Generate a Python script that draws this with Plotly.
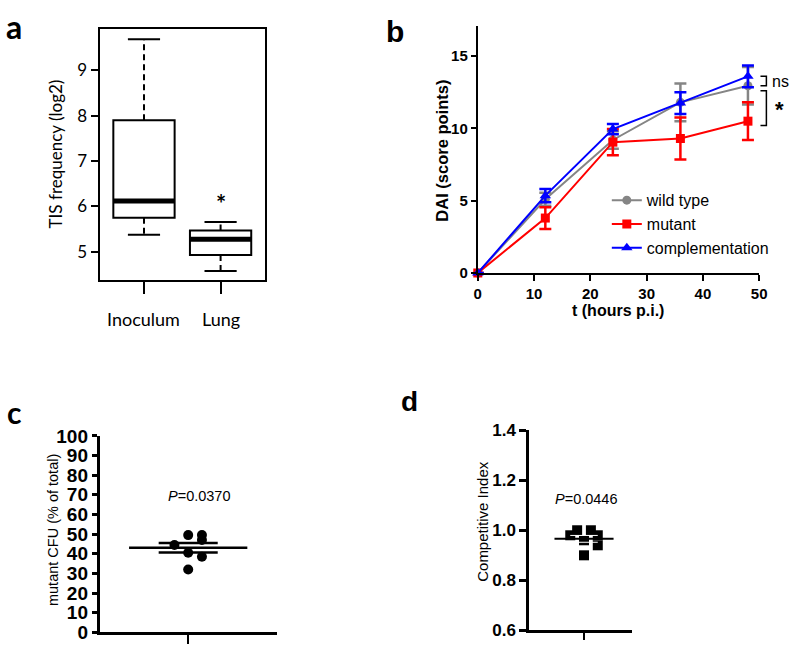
import numpy as np
import plotly.graph_objects as go

# ---------------- data ----------------
# panel a: box plot statistics (log2 TIS frequency)
box_categories = ["Inoculum", "Lung"]
box_q1 = [5.75, 4.93]
box_median = [6.12, 5.28]
box_q3 = [7.90, 5.47]
box_min = [5.38, 4.58]
box_max = [9.68, 5.66]
box_yticks = [5, 6, 7, 8, 9]

# panel b: DAI time course (mean, SEM)
time_hours = [0, 12, 24, 36, 48]
wt_mean = [0, 5.1, 9.2, 11.8, 12.95]
wt_sem = [None, 0.45, 0.6, 1.3, 1.3]
mut_mean = [0, 3.8, 9.05, 9.3, 10.5]
mut_sem = [None, 0.75, 0.9, 1.45, 1.3]
comp_mean = [0, 5.35, 9.95, 11.75, 13.6]
comp_sem = [None, 0.45, 0.35, 0.75, 0.75]
series_names = ["wild type", "mutant", "complementation"]

# panel c: mutant CFU (% of total)
cfu_values = [49.5, 49.5, 47.0, 44.5, 40.5, 38.5, 32.0]
cfu_slots = [0, 1, 1, -1, 0, 1, 0]
cfu_p = "0.0370"

# panel d: competitive index
ci_values = [1.00, 1.00, 0.98, 0.98, 0.96, 0.94, 0.90]
ci_slots = [-1, 1, -2, 2, 0, 2, 0]
ci_p = "0.0446"

# ---------------- helpers ----------------
W, H = 800, 655
def PX(x):
    return x / W
def PY(y):
    return 1 - y / H

ARIAL = "Liberation Sans"
CAL = "Lato"

fig = go.Figure()

# ---------------- panel a ----------------
cat_x = [1, 2]
fig.add_trace(go.Box(
    x=cat_x, q1=box_q1, median=box_median, q3=box_q3,
    lowerfence=box_q1, upperfence=box_q3,
    width=0.8, fillcolor="white", line=dict(color="black", width=2),
    boxpoints=False, xaxis="x", yaxis="y", showlegend=False, hoverinfo="skip"))
wx, wy, cx, cy = [], [], [], []
for c, q1, q3, lo, hi in zip(cat_x, box_q1, box_q3, box_min, box_max):
    wx += [c, c, None, c, c, None]
    wy += [q3, hi, None, q1, lo, None]
    cx += [c - 0.21, c + 0.21, None, c - 0.21, c + 0.21, None]
    cy += [hi, hi, None, lo, lo, None]
fig.add_trace(go.Scatter(x=wx, y=wy, mode="lines", line=dict(color="black", width=2, dash="6px,4px"),
                         xaxis="x", yaxis="y", showlegend=False, hoverinfo="skip"))
fig.add_trace(go.Scatter(x=cx, y=cy, mode="lines", line=dict(color="black", width=2),
                         xaxis="x", yaxis="y", showlegend=False, hoverinfo="skip"))
mx, my = [], []
for c, m in zip(cat_x, box_median):
    mx += [c - 0.4, c + 0.4, None]
    my += [m, m, None]
fig.add_trace(go.Scatter(x=mx, y=my, mode="lines", line=dict(color="black", width=5),
                         xaxis="x", yaxis="y", showlegend=False, hoverinfo="skip"))

# ---------------- panel b ----------------
b_specs = [
    (series_names[0], wt_mean, wt_sem, "#858585", "circle", 9),
    (series_names[1], mut_mean, mut_sem, "#ff0000", "square", 9),
    (series_names[2], comp_mean, comp_sem, "#0000ff", "triangle-up", 10),
]
for name, mean, sem, col, sym, ms in b_specs:
    fig.add_trace(go.Scatter(
        x=time_hours, y=mean, name=name, mode="lines+markers",
        line=dict(color=col, width=2),
        marker=dict(color=col, symbol=sym, size=ms),
        error_y=dict(type="data", array=sem, visible=True, color=col, thickness=2.5, width=6),
        cliponaxis=False, xaxis="x2", yaxis="y2"))

# ---------------- panel c ----------------
cfu = np.array(cfu_values)
cfu_mean = cfu.mean()
cfu_sem = cfu.std(ddof=1) / np.sqrt(len(cfu))
fig.add_trace(go.Scatter(x=[1 + 0.155 * s for s in cfu_slots], y=cfu_values, mode="markers",
                         marker=dict(color="black", size=10), cliponaxis=False,
                         xaxis="x3", yaxis="y3", showlegend=False, hoverinfo="skip"))
fig.add_trace(go.Scatter(
    x=[1 - 0.667, 1 + 0.667, None, 1 - 0.333, 1 + 0.333, None, 1 - 0.333, 1 + 0.333],
    y=[cfu_mean, cfu_mean, None, cfu_mean + cfu_sem, cfu_mean + cfu_sem, None,
       cfu_mean - cfu_sem, cfu_mean - cfu_sem],
    mode="lines", line=dict(color="black", width=2.5),
    xaxis="x3", yaxis="y3", showlegend=False, hoverinfo="skip"))

# ---------------- panel d ----------------
ci = np.array(ci_values)
ci_mean = ci.mean()
ci_sem = ci.std(ddof=1) / np.sqrt(len(ci))
fig.add_trace(go.Scatter(x=[1 + 0.125 * s for s in ci_slots], y=ci_values, mode="markers",
                         marker=dict(color="black", size=10, symbol="square"), cliponaxis=False,
                         xaxis="x4", yaxis="y4", showlegend=False, hoverinfo="skip"))
fig.add_trace(go.Scatter(
    x=[1 - 0.25, 1 + 0.25, None, 1 - 0.25, 1 + 0.25],
    y=[ci_mean + ci_sem, ci_mean + ci_sem, None, ci_mean - ci_sem, ci_mean - ci_sem],
    mode="lines", line=dict(color="white", width=1),
    xaxis="x4", yaxis="y4", showlegend=False, hoverinfo="skip"))
fig.add_trace(go.Scatter(
    x=[1 - 0.537, 1 + 0.537], y=[ci_mean, ci_mean],
    mode="lines", line=dict(color="black", width=2),
    xaxis="x4", yaxis="y4", showlegend=False, hoverinfo="skip"))

# ---------------- axes ----------------
def ax(**kw):
    base = dict(showgrid=False, zeroline=False, showline=True, linecolor="black",
                ticks="outside", tickcolor="black", fixedrange=True)
    base.update(kw)
    return base

b_tick = dict(family=ARIAL, size=15, color="black", weight="bold")

fig.update_layout(
    width=W, height=H, margin=dict(l=0, r=0, t=0, b=0),
    paper_bgcolor="white", plot_bgcolor="white",
    showlegend=True,
    xaxis=ax(domain=[PX(97), PX(265)], range=[0.42, 2.58], tickvals=cat_x, ticktext=["", ""],
             mirror=True, linewidth=2, ticklen=12, tickwidth=2, anchor="y"),
    yaxis=ax(domain=[PY(279), PY(20)], range=[4.38, 9.90], tickvals=box_yticks,
             mirror=True, linewidth=2, ticklen=7, tickwidth=1.5, anchor="x",
             tickfont=dict(family=CAL, size=17, color="black")),
    xaxis2=ax(domain=[PX(481), PX(766.7)], range=[0, 50], dtick=10, tick0=0,
              linewidth=2, ticklen=6, tickwidth=2, anchor="y2", tickfont=b_tick),
    yaxis2=ax(domain=[PY(271.7), PY(16.7)], range=[0, 17.07], tickvals=[0, 5, 10, 15],
              linewidth=2, ticklen=5, tickwidth=2, anchor="x2", tickfont=b_tick),
    xaxis3=ax(domain=[PX(97), PX(277)], range=[0, 2], tickvals=[1], ticktext=[""],
              linewidth=2.5, ticklen=9, tickwidth=2, anchor="y3"),
    yaxis3=ax(domain=[PY(643), PY(440)], range=[0, 100], dtick=10, tick0=0,
              linewidth=2.5, ticklen=5, tickwidth=2.5, anchor="x3",
              tickfont=dict(family=ARIAL, size=19, color="black", weight="bold")),
    xaxis4=ax(domain=[PX(533), PX(638)], range=[0, 1.88], tickvals=[1], ticktext=[""],
              linewidth=2.5, ticklen=7, tickwidth=2, anchor="y4"),
    yaxis4=ax(domain=[PY(641), PY(434)], range=[0.6, 1.4], tickvals=[0.6, 0.8, 1.0, 1.2, 1.4],
              tickformat=".1f", linewidth=2.5, ticklen=7, tickwidth=2.5, anchor="x4",
              tickfont=dict(family=ARIAL, size=17, color="black", weight="bold")),
    legend=dict(x=PX(612), y=PY(179), xanchor="left", yanchor="top",
                font=dict(family=ARIAL, size=16, color="black"),
                bgcolor="rgba(0,0,0,0)", borderwidth=0, itemwidth=30),
)

# ---------------- annotations ----------------
ann = []
def text(x, y, s, size, family=ARIAL, bold=False, angle=0, xanchor="center", **kw):
    d = dict(x=PX(x), y=PY(y), xref="paper", yref="paper", text=s, showarrow=False,
             xanchor=xanchor, yanchor="middle", textangle=angle,
             font=dict(family=family, size=size, color="black", weight="bold" if bold else "normal"))
    d.update(kw)
    ann.append(d)

# panel letters
text(10, 17, "a", 32, CAL, True)
text(397, 22, "b", 30, ARIAL, True)
text(10, 415, "c", 30, CAL, True)
text(412, 404, "d", 28, ARIAL, True)

# panel a labels
for c, lab in zip(cat_x, box_categories):
    ann.append(dict(x=c, y=PY(319), xref="x", yref="paper", text=lab, showarrow=False,
                    xanchor="center", yanchor="middle",
                    font=dict(family=CAL, size=18, color="black")))
text(52, 149, "TIS frequency (log2)", 17, CAL, angle=-90)
ann.append(dict(x=2, y=box_max[1], xref="x", yref="y", text="*", showarrow=False,
                yshift=18, font=dict(family=CAL, size=24, color="black", weight="bold")))

# panel b labels
text(445, 145, "DAI (score points)", 16.5, ARIAL, True, angle=-90)
text(623, 310, "t (hours p.i.)", 16, ARIAL, True)
text(799, 74, "ns", 16, ARIAL, xanchor="right")
text(787, 103, "*", 22, ARIAL, True)

# panel c/d labels
text(50, 537, "mutant CFU (% of total)", 14.5, ARIAL, angle=-90)
text(198, 502, "<i>P</i>=" + cfu_p, 14.5, ARIAL)
text(485, 528, "Competitive Index", 15, ARIAL, angle=-90)
text(591, 505, "<i>P</i>=" + ci_p, 14.5, ARIAL)

fig.update_layout(annotations=ann)

# significance brackets in panel b (to the right of the x axis end)
ymax_b = 17.07
def bracket(y_top, y_bot, x0=768, x1=774):
    a, b = y_top / ymax_b, y_bot / ymax_b
    return dict(type="path", xref="paper", yref="y2 domain",
                path=f"M {PX(x0)},{a} L {PX(x1)},{a} L {PX(x1)},{b} L {PX(x0)},{b}",
                line=dict(color="black", width=1.5))
fig.update_layout(shapes=[bracket(comp_mean[-1], wt_mean[-1]), bracket(12.6, 10.2)])

fig.write_html("out.html", config={"displayModeBar": False},
               post_script="document.body.style.margin='0';document.body.style.overflow='hidden';")
